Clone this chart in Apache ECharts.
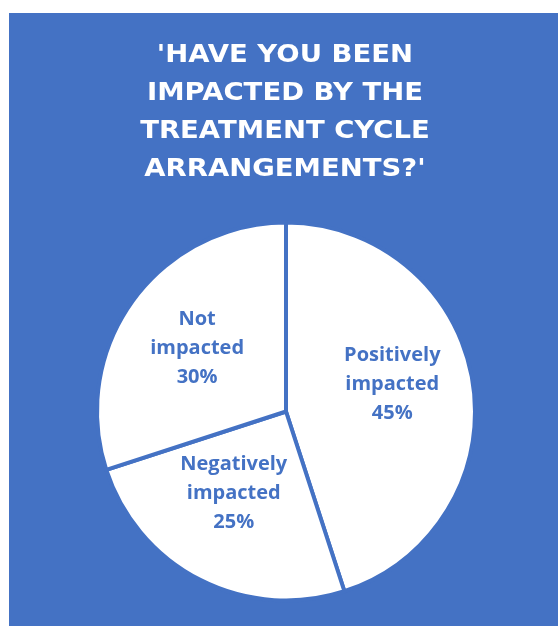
<!DOCTYPE html>
<html>
<head>
<meta charset="utf-8">
<script src="https://cdn.jsdelivr.net/npm/echarts@6/dist/echarts.min.js"></script>
<style>
  html, body { margin: 0; padding: 0; background: #ffffff; }
  #chart { width: 558px; height: 626px; }
</style>
</head>
<body>
<div id="chart"></div>
<script>
// Survey answers, in clockwise order from 12 o'clock
const categories = ['Positively\nimpacted', 'Negatively\nimpacted', 'Not\nimpacted'];
const shares = [45, 25, 30];
const titleLines = ["'HAVE YOU BEEN", 'IMPACTED BY THE', 'TREATMENT CYCLE', "ARRANGEMENTS?'"];

const BLUE = '#4472C4';
// small nudges of the in-slice labels away from the centre
const labelNudge = [[10, -12], [-8, -5], [-10, -6]];

const chart = echarts.init(document.getElementById('chart'), null, { renderer: 'canvas' });
chart.setOption({
  backgroundColor: '#ffffff',
  animation: false,
  graphic: [{
    type: 'rect', z: -10, silent: true,
    shape: { x: 9, y: 13, width: 549, height: 613 },
    style: { fill: BLUE }
  }, {
    // spaced-out heading, widened horizontally
    type: 'text', silent: true,
    x: 285, y: 36, scaleX: 1.1, originX: 0,
    style: {
      text: titleLines.join('\n'),
      fill: '#ffffff', font: 'bold 25px "DejaVu Sans"',
      lineHeight: 38, align: 'center', verticalAlign: 'top'
    }
  }],
  series: [{
    type: 'pie',
    center: [286, 411.5],
    radius: 189,
    startAngle: 90,
    clockwise: true,
    silent: true,
    data: categories.map((c, i) => ({ name: c, value: shares[i] })),
    itemStyle: { color: '#ffffff', borderColor: BLUE, borderWidth: 4 },
    label: {
      show: true, position: 'inside',
      formatter: p => p.name + '\n' + p.value + '%',
      color: BLUE, fontFamily: 'Open Sans', fontWeight: 'bold',
      fontSize: 20, lineHeight: 29, align: 'center'
    },
    labelLine: { show: false },
    labelLayout: p => ({ dx: labelNudge[p.dataIndex][0], dy: labelNudge[p.dataIndex][1] })
  }]
});
</script>
</body>
</html>
